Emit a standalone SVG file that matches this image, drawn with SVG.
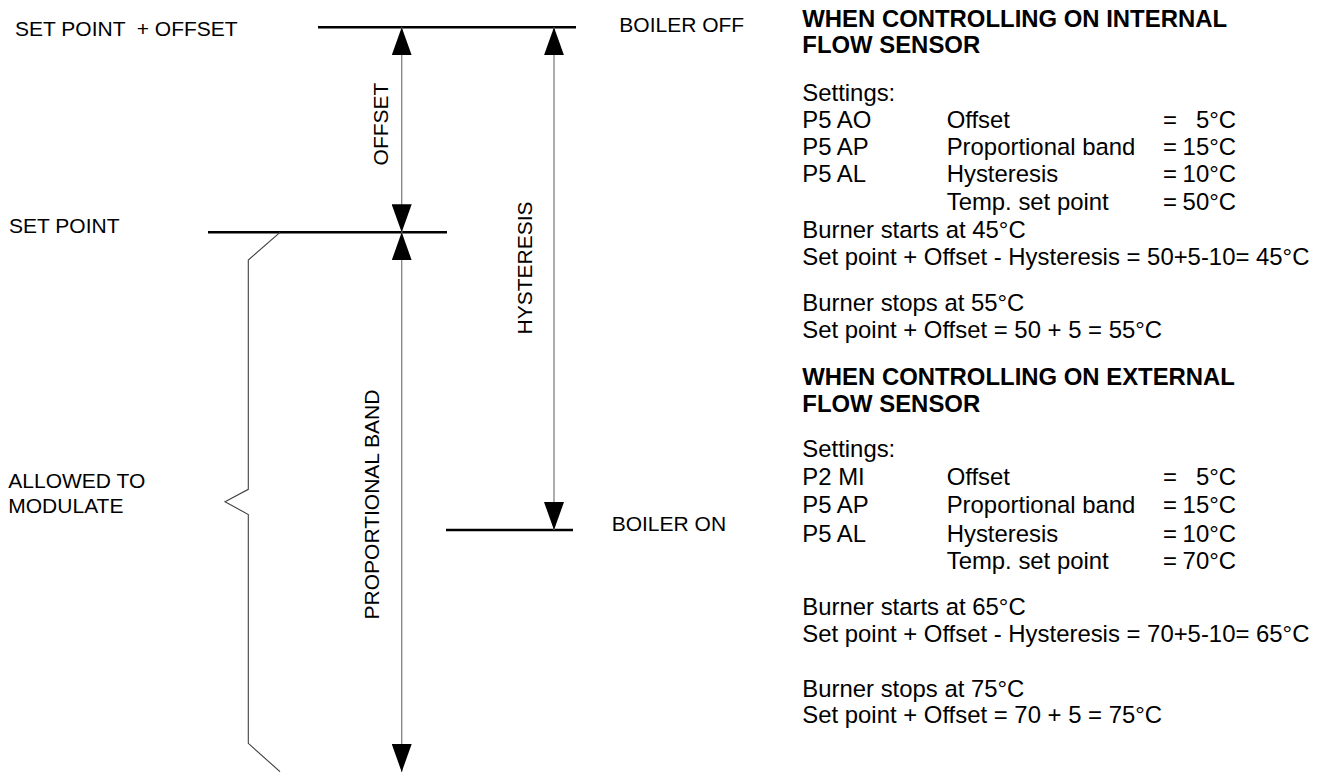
<svg xmlns="http://www.w3.org/2000/svg" width="1327" height="772" viewBox="0 0 1327 772">
<style>
  .lbl { font-family: "Liberation Sans", Arial, sans-serif; font-size: 21px; fill: #000; }
  .txt { font-family: "Liberation Sans", Arial, sans-serif; font-size: 23.9px; fill: #000; }
  .hd { font-weight: bold; }
  .level { stroke: #000; stroke-width: 2.4; fill: none; }
  .dim { stroke: #808080; stroke-width: 1.3; fill: none; }
  .brace { stroke: #404040; stroke-width: 1.1; fill: none; }
</style>
<defs>
  <marker id="ah" markerUnits="userSpaceOnUse" markerWidth="28" markerHeight="20" refX="28" refY="10" orient="auto-start-reverse">
    <path d="M0,0 L28,10 L0,20 Z" fill="#000"/>
  </marker>
</defs>
<rect width="1327" height="772" fill="#fff"/>

<g id="level-setpoint-offset">
  <line class="level" x1="318" y1="27.3" x2="576" y2="27.3"/>
  <text class="lbl" x="15" y="35.7" xml:space="preserve">SET POINT  + OFFSET</text>
  <text class="lbl" x="619.3" y="32.3">BOILER OFF</text>
</g>

<g id="level-setpoint">
  <line class="level" x1="208" y1="232.3" x2="447" y2="232.3"/>
  <text class="lbl" x="9" y="233.3">SET POINT</text>
</g>

<g id="level-boiler-on">
  <line class="level" x1="446" y1="530" x2="573" y2="530"/>
  <text class="lbl" x="611.7" y="530.7">BOILER ON</text>
</g>

<g id="allowed-to-modulate">
  <polyline class="brace" points="280,232.3 248.3,260 248.3,489.3 225,501.7 248.3,514.5 248.3,743.3 280,771.7"/>
  <text class="lbl" x="8.3" y="488.3">ALLOWED TO</text>
  <text class="lbl" x="8.3" y="513.3">MODULATE</text>
</g>

<g id="connectors">
  <line class="dim" x1="401.7" y1="27.3" x2="401.7" y2="232.3" marker-start="url(#ah)" marker-end="url(#ah)"/>
  <line class="dim" x1="554" y1="27.3" x2="554" y2="530" marker-start="url(#ah)" marker-end="url(#ah)"/>
  <line class="dim" x1="401.7" y1="232.3" x2="401.7" y2="772" marker-start="url(#ah)" marker-end="url(#ah)"/>
</g>

<g id="dimension-labels">
  <text class="lbl" text-anchor="middle" transform="translate(388.3,124) rotate(-90)">OFFSET</text>
  <text class="lbl" text-anchor="middle" transform="translate(531.7,268) rotate(-90)">HYSTERESIS</text>
  <text class="lbl" text-anchor="middle" transform="translate(379.3,504.5) rotate(-90)">PROPORTIONAL BAND</text>
</g>

<g id="internal-sensor">
  <text class="txt hd" x="802.3" y="26.7">WHEN CONTROLLING ON INTERNAL</text>
  <text class="txt hd" x="802.3" y="53.3">FLOW SENSOR</text>
  <text class="txt" x="802.3" y="100.7">Settings:</text>
  <text class="txt" x="802.3" y="128.3">P5 AO</text>
  <text class="txt" x="946.7" y="128.3">Offset</text>
  <text class="txt" x="1163" y="128.3">=</text>
  <text class="txt" x="1236" y="128.3" text-anchor="end">5°C</text>
  <text class="txt" x="802.3" y="155.3">P5 AP</text>
  <text class="txt" x="946.7" y="155.3">Proportional band</text>
  <text class="txt" x="1163" y="155.3">=</text>
  <text class="txt" x="1236" y="155.3" text-anchor="end">15°C</text>
  <text class="txt" x="802.3" y="182.3">P5 AL</text>
  <text class="txt" x="946.7" y="182.3">Hysteresis</text>
  <text class="txt" x="1163" y="182.3">=</text>
  <text class="txt" x="1236" y="182.3" text-anchor="end">10°C</text>
  <text class="txt" x="946.7" y="210">Temp. set point</text>
  <text class="txt" x="1163" y="210">=</text>
  <text class="txt" x="1236" y="210" text-anchor="end">50°C</text>
  <text class="txt" x="802.3" y="237.7">Burner starts at 45°C</text>
  <text class="txt" x="802.3" y="264.5">Set point + Offset - Hysteresis = 50+5-10= 45°C</text>
  <text class="txt" x="802.3" y="310.7">Burner stops at 55°C</text>
  <text class="txt" x="802.3" y="338">Set point + Offset = 50 + 5 = 55°C</text>
</g>

<g id="external-sensor">
  <text class="txt hd" x="802.3" y="385">WHEN CONTROLLING ON EXTERNAL</text>
  <text class="txt hd" x="802.3" y="411.7">FLOW SENSOR</text>
  <text class="txt" x="802.3" y="457.3">Settings:</text>
  <text class="txt" x="802.3" y="485">P2 MI</text>
  <text class="txt" x="946.7" y="485">Offset</text>
  <text class="txt" x="1163" y="485">=</text>
  <text class="txt" x="1236" y="485" text-anchor="end">5°C</text>
  <text class="txt" x="802.3" y="513.3">P5 AP</text>
  <text class="txt" x="946.7" y="513.3">Proportional band</text>
  <text class="txt" x="1163" y="513.3">=</text>
  <text class="txt" x="1236" y="513.3" text-anchor="end">15°C</text>
  <text class="txt" x="802.3" y="541.7">P5 AL</text>
  <text class="txt" x="946.7" y="541.7">Hysteresis</text>
  <text class="txt" x="1163" y="541.7">=</text>
  <text class="txt" x="1236" y="541.7" text-anchor="end">10°C</text>
  <text class="txt" x="946.7" y="569">Temp. set point</text>
  <text class="txt" x="1163" y="569">=</text>
  <text class="txt" x="1236" y="569" text-anchor="end">70°C</text>
  <text class="txt" x="802.3" y="615">Burner starts at 65°C</text>
  <text class="txt" x="802.3" y="641.7">Set point + Offset - Hysteresis = 70+5-10= 65°C</text>
  <text class="txt" x="802.3" y="696.7">Burner stops at 75°C</text>
  <text class="txt" x="802.3" y="723.3">Set point + Offset = 70 + 5 = 75°C</text>
</g>
</svg>
